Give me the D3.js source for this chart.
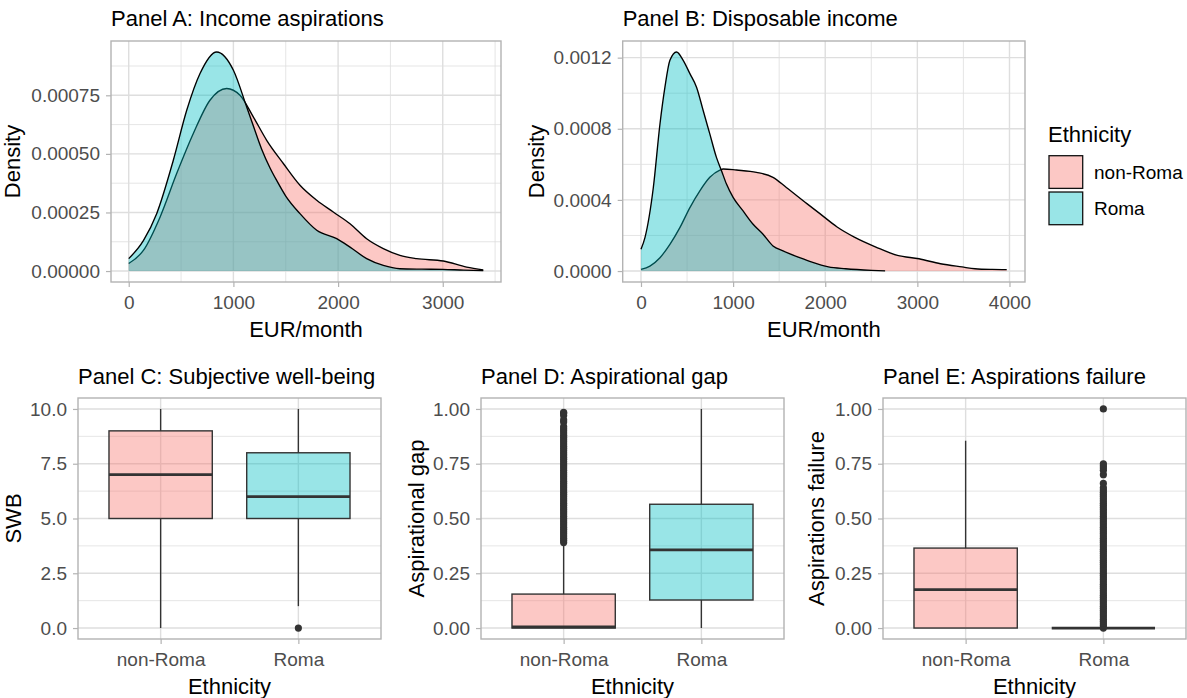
<!DOCTYPE html>
<html><head><meta charset="utf-8">
<script src="https://cdn.jsdelivr.net/npm/d3@7"></script>
<style>body{margin:0;background:#fff} svg text{font-family:"Liberation Sans",Arial,sans-serif}</style>
</head><body><svg id="c" width="1187" height="698"></svg>
<script>
// ---------------- DATA ----------------
const groups = ["non-Roma", "Roma"];
const groupColors = ["#F8766D", "#00BFC4"];

// Panel A: income aspirations density (EUR/month, density)
const aspNonRomaX = [0,140,299,458,617,776,936,1063,1190,1318,1477,1636,1796,1954,2114,2273,2432,2591,2750,3005,3228,3387];
const aspNonRomaY = [0.000032,0.000088,0.00023,0.000416,0.000587,0.000729,0.000779,0.00075,0.000658,0.000558,0.000459,0.000366,0.000302,0.000252,0.000202,0.000138,0.000096,0.000067,0.000053,0.000043,0.000017,0.000005];
const aspRomaX = [0,140,267,426,554,681,840,1000,1127,1190,1270,1350,1413,1500,1636,1796,1987,2114,2273,2432,2591,2800,3000,3200,3387];
const aspRomaY = [0.000053,0.00013,0.000245,0.000473,0.000686,0.000843,0.000935,0.000857,0.0007,0.00062,0.00052,0.00044,0.000387,0.00032,0.000245,0.000174,0.000138,0.000102,0.000053,0.000024,0.00001,0.000008,0.000007,0.000004,0.000002];

// Panel B: disposable income density
const incNonRomaX = [0,97,206,314,422,531,639,747,856,892,1036,1253,1433,1578,1801,1942,2129,2316,2550,2784,3018,3251,3485,3626,3813,3970];
const incNonRomaY = [0.0000094,0.000028,0.000075,0.00015,0.000244,0.000357,0.000451,0.000527,0.000568,0.000574,0.000568,0.000555,0.000527,0.00047,0.000379,0.000323,0.000248,0.000191,0.000135,0.000088,0.000069,0.000041,0.000023,0.000013,0.000009,0.000008];
const incRomaX = [0,43,134,206,260,314,386,458,531,603,675,747,819,874,928,1000,1108,1217,1325,1433,1542,1722,1848,2035,2222,2503,2650];
const incRomaY = [0.000122,0.000188,0.00047,0.000827,0.001034,0.001185,0.001232,0.001185,0.00111,0.001034,0.000903,0.000771,0.000639,0.000564,0.000489,0.000414,0.000338,0.000263,0.000207,0.000141,0.000113,0.000075,0.000051,0.000023,0.000013,0.000004,0.000001];

// Panel C: SWB boxplot stats [non-Roma, Roma]
const swbLower = [0, 1], swbQ1 = [5, 5], swbMedian = [7, 6], swbQ3 = [9, 8], swbUpper = [10, 10];
const swbOutNonRoma = [], swbOutRoma = [0];

// Panel D: aspirational gap
const gapLower = [0, 0], gapQ1 = [0, 0.128], gapMedian = [0.005, 0.357], gapQ3 = [0.155, 0.565], gapUpper = [0.385, 1.0];
const gapOutNonRoma = [0.39,0.40,0.41,0.42,0.43,0.44,0.45,0.46,0.47,0.48,0.49,0.50,0.51,0.52,0.53,0.54,0.55,0.56,0.57,0.58,0.59,0.60,0.61,0.62,0.63,0.64,0.65,0.66,0.67,0.68,0.69,0.70,0.71,0.72,0.73,0.74,0.75,0.76,0.77,0.78,0.79,0.80,0.81,0.82,0.83,0.84,0.85,0.86,0.87,0.88,0.89,0.90,0.91,0.92,0.94,0.95,0.97,0.98,0.985];
const gapOutRoma = [];

// Panel E: aspirations failure
const failLower = [0, 0], failQ1 = [0, 0], failMedian = [0.175, 0], failQ3 = [0.365, 0], failUpper = [0.855, 0];
const failOutNonRoma = [];
const failOutRoma = [0.00,0.01,0.02,0.03,0.04,0.05,0.06,0.07,0.08,0.09,0.10,0.11,0.12,0.13,0.14,0.15,0.16,0.17,0.18,0.19,0.20,0.21,0.22,0.23,0.24,0.25,0.26,0.27,0.28,0.29,0.30,0.31,0.32,0.33,0.34,0.35,0.36,0.37,0.38,0.39,0.40,0.41,0.42,0.43,0.44,0.45,0.46,0.47,0.48,0.49,0.50,0.51,0.52,0.53,0.54,0.55,0.56,0.57,0.58,0.59,0.60,0.61,0.62,0.63,0.64,0.66,0.70,0.72,0.73,0.74,0.75,1.00];

// Tick labels
const aspXTicks = [0,1000,2000,3000], aspXMinor = [500,1500,2500,3500];
const aspYTicks = [0,0.00025,0.0005,0.00075], aspYMinor = [0.000125,0.000375,0.000625,0.000875];
const aspYLabels = ["0.00000","0.00025","0.00050","0.00075"];
const incXTicks = [0,1000,2000,3000,4000], incXMinor = [500,1500,2500,3500];
const incYTicks = [0,0.0004,0.0008,0.0012], incYMinor = [0.0002,0.0006,0.001];
const incYLabels = ["0.0000","0.0004","0.0008","0.0012"];
const swbYTicks = [0,2.5,5,7.5,10], swbYMinor = [1.25,3.75,6.25,8.75];
const swbYLabels = ["0.0","2.5","5.0","7.5","10.0"];
const unitYTicks = [0,0.25,0.5,0.75,1], unitYMinor = [0.125,0.375,0.625,0.875];
const unitYLabels = ["0.00","0.25","0.50","0.75","1.00"];

// ---------------- DRAWING ----------------
const svg = d3.select("#c");
svg.append("rect").attr("width",1187).attr("height",698).attr("fill","#fff");
const TXT = "#4d4d4d", GRID = "#dedede", BORDER = "#b3b3b3", LINE = "#333333";

function expandDomain(lo, hi, f){ const d=(hi-lo)*f; return [lo-d, hi+d]; }

function frame(p){
  const g = svg.append("g");
  p.yMinor.forEach(v => g.append("line").attr("x1",p.left).attr("x2",p.right)
    .attr("y1",p.y(v)).attr("y2",p.y(v)).attr("stroke",GRID).attr("stroke-width",0.8));
  (p.xMinor||[]).forEach(v => g.append("line").attr("y1",p.top).attr("y2",p.bottom)
    .attr("x1",p.x(v)).attr("x2",p.x(v)).attr("stroke",GRID).attr("stroke-width",0.8));
  p.yMajor.forEach(v => g.append("line").attr("x1",p.left).attr("x2",p.right)
    .attr("y1",p.y(v)).attr("y2",p.y(v)).attr("stroke",GRID).attr("stroke-width",1.4));
  p.xMajor.forEach(v => g.append("line").attr("y1",p.top).attr("y2",p.bottom)
    .attr("x1",p.x(v)).attr("x2",p.x(v)).attr("stroke",GRID).attr("stroke-width",1.4));
  const xa = g.append("g").attr("transform",`translate(0,${p.bottom})`)
    .call(d3.axisBottom(p.x).tickValues(p.xMajor).tickFormat(p.xFmt).tickSize(5).tickPadding(8.5));
  const ya = g.append("g").attr("transform",`translate(${p.left},0)`)
    .call(d3.axisLeft(p.y).tickValues(p.yMajor).tickFormat((d,i)=>p.yLabels[i]).tickSize(5).tickPadding(6));
  [xa,ya].forEach(a=>{
    a.select(".domain").remove();
    a.selectAll(".tick line").attr("stroke",BORDER).attr("stroke-width",1.2);
    a.selectAll(".tick text").attr("fill",TXT).style("font-size","19px").style("font-family",'"Liberation Sans",Arial,sans-serif');
  });
  g.append("text").attr("x",p.left).attr("y",p.titleY).text(p.title)
    .style("font-size","22px").attr("fill","#000");
  g.append("text").attr("x",(p.left+p.right)/2).attr("y",p.bottom+55).attr("text-anchor","middle")
    .text(p.xTitle).style("font-size","22px").attr("fill","#000");
  g.append("text").attr("transform",`translate(${p.yTitleX},${(p.top+p.bottom)/2}) rotate(-90)`)
    .attr("text-anchor","middle").text(p.yTitle).style("font-size","22px").attr("fill","#000");
  p.dataLayer = svg.append("g");
  p.borderG = svg.append("g");
  return p;
}
function border(p){
  p.borderG.append("rect").attr("x",p.left).attr("y",p.top).attr("width",p.right-p.left)
    .attr("height",p.bottom-p.top).attr("fill","none").attr("stroke",BORDER).attr("stroke-width",1.4);
}

function densityPanel(cfg){
  const allX = cfg.series.flatMap(s=>s.xs), allY = cfg.series.flatMap(s=>s.ys);
  const x = d3.scaleLinear().domain(expandDomain(d3.min(allX), d3.max(allX), 0.05)).range([cfg.left,cfg.right]);
  const y = d3.scaleLinear().domain(expandDomain(0, d3.max(allY), 0.05)).range([cfg.bottom,cfg.top]);
  const p = frame(Object.assign({x,y,xFmt:d3.format("d")}, cfg));
  cfg.series.forEach(s=>{
    const pts = s.xs.map((v,i)=>[v, s.ys[i]]);
    const area = d3.area().x(d=>x(d[0])).y0(y(0)).y1(d=>y(d[1])).curve(d3.curveMonotoneX);
    const line = d3.line().x(d=>x(d[0])).y(d=>y(d[1])).curve(d3.curveMonotoneX);
    p.dataLayer.append("path").attr("d",area(pts)).attr("fill",s.color).attr("fill-opacity",0.4);
    p.dataLayer.append("path").attr("d",line(pts)).attr("fill","none").attr("stroke","#000").attr("stroke-width",1.35);
  });
  border(p);
}

function boxPanel(cfg){
  const x = d3.scalePoint().domain(groups).range([cfg.left,cfg.right]).padding(0.6);
  const y = d3.scaleLinear().domain(expandDomain(cfg.yMin, cfg.yMax, 0.05)).range([cfg.bottom,cfg.top]);
  const p = frame(Object.assign({x,y,xMajor:groups,xMinor:[],xFmt:d=>d}, cfg));
  const bw = x.step()*0.75;
  groups.forEach((gname,i)=>{
    const cx = x(gname), L = p.dataLayer;
    cfg.outliers[i].forEach(v=> L.append("circle").attr("cx",cx).attr("cy",y(v)).attr("r",3.6).attr("fill",LINE));
    L.append("line").attr("x1",cx).attr("x2",cx).attr("y1",y(cfg.q3[i])).attr("y2",y(cfg.upper[i])).attr("stroke",LINE).attr("stroke-width",1.4);
    L.append("line").attr("x1",cx).attr("x2",cx).attr("y1",y(cfg.q1[i])).attr("y2",y(cfg.lower[i])).attr("stroke",LINE).attr("stroke-width",1.4);
    L.append("rect").attr("x",cx-bw/2).attr("width",bw).attr("y",y(cfg.q3[i]))
      .attr("height",Math.max(0,y(cfg.q1[i])-y(cfg.q3[i])))
      .attr("fill",groupColors[i]).attr("fill-opacity",0.4).attr("stroke",LINE).attr("stroke-width",1.4);
    L.append("line").attr("x1",cx-bw/2).attr("x2",cx+bw/2).attr("y1",y(cfg.median[i])).attr("y2",y(cfg.median[i]))
      .attr("stroke",LINE).attr("stroke-width",2.8);
  });
  border(p);
}

densityPanel({left:111,right:501,top:41,bottom:282,titleY:26,title:"Panel A: Income aspirations",
  xTitle:"EUR/month",yTitle:"Density",yTitleX:20,
  xMajor:aspXTicks,xMinor:aspXMinor,yMajor:aspYTicks,yMinor:aspYMinor,yLabels:aspYLabels,
  series:[{xs:aspNonRomaX,ys:aspNonRomaY,color:groupColors[0]},{xs:aspRomaX,ys:aspRomaY,color:groupColors[1]}]});

densityPanel({left:622.7,right:1025,top:41,bottom:282,titleY:26,title:"Panel B: Disposable income",
  xTitle:"EUR/month",yTitle:"Density",yTitleX:544,
  xMajor:incXTicks,xMinor:incXMinor,yMajor:incYTicks,yMinor:incYMinor,yLabels:incYLabels,
  series:[{xs:incNonRomaX,ys:incNonRomaY,color:groupColors[0]},{xs:incRomaX,ys:incRomaY,color:groupColors[1]}]});

boxPanel({left:78,right:381,top:398,bottom:639,titleY:384,title:"Panel C: Subjective well-being",
  xTitle:"Ethnicity",yTitle:"SWB",yTitleX:21,yMin:0,yMax:10,
  yMajor:swbYTicks,yMinor:swbYMinor,yLabels:swbYLabels,
  lower:swbLower,q1:swbQ1,median:swbMedian,q3:swbQ3,upper:swbUpper,outliers:[swbOutNonRoma,swbOutRoma]});

boxPanel({left:481,right:784,top:398,bottom:639,titleY:384,title:"Panel D: Aspirational gap",
  xTitle:"Ethnicity",yTitle:"Aspirational gap",yTitleX:424,yMin:0,yMax:1,
  yMajor:unitYTicks,yMinor:unitYMinor,yLabels:unitYLabels,
  lower:gapLower,q1:gapQ1,median:gapMedian,q3:gapQ3,upper:gapUpper,outliers:[gapOutNonRoma,gapOutRoma]});

boxPanel({left:883,right:1186,top:398,bottom:639,titleY:384,title:"Panel E: Aspirations failure",
  xTitle:"Ethnicity",yTitle:"Aspirations failure",yTitleX:824,yMin:0,yMax:1,
  yMajor:unitYTicks,yMinor:unitYMinor,yLabels:unitYLabels,
  lower:failLower,q1:failQ1,median:failMedian,q3:failQ3,upper:failUpper,outliers:[failOutNonRoma,failOutRoma]});

// Legend
const lg = svg.append("g");
lg.append("text").attr("x",1048).attr("y",142).text("Ethnicity").style("font-size","22px").attr("fill","#000");
const keyScale = d3.scaleBand().domain(groups).range([155.7,224.7]).paddingInner(0.1);
groups.forEach((gname,i)=>{
  const ky = keyScale(gname), kh = keyScale.bandwidth();
  lg.append("rect").attr("x",1049).attr("y",ky).attr("width",33.7).attr("height",kh).attr("fill","#fff");
  lg.append("rect").attr("x",1049).attr("y",ky).attr("width",33.7).attr("height",kh)
    .attr("fill",groupColors[i]).attr("fill-opacity",0.4).attr("stroke","#111").attr("stroke-width",1.3);
  lg.append("text").attr("x",1094).attr("y",ky+kh/2+7).text(gname).style("font-size","19px").attr("fill","#000");
});
</script></body></html>
